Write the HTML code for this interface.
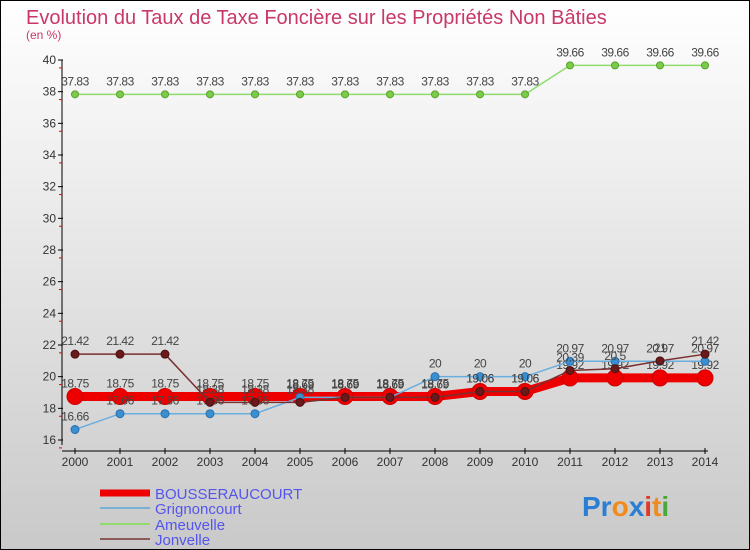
<!DOCTYPE html>
<html><head><meta charset="utf-8"><style>
body{margin:0;padding:0}
svg{display:block;font-family:"Liberation Sans",sans-serif}
</style></head><body>
<svg id="chart" width="750" height="550" viewBox="0 0 750 550">
<defs><linearGradient id="bg" x1="0" y1="0" x2="0" y2="1"><stop offset="0" stop-color="#ffffff"/><stop offset="1" stop-color="#c9c9c9"/></linearGradient></defs>
<rect x="0.5" y="0.5" width="749" height="549" fill="url(#bg)" stroke="#000"/>
<text x="26" y="24" font-size="20" fill="#c8386a">Evolution du Taux de Taxe Foncière sur les Propriétés Non Bâties</text>
<text x="26" y="39" font-size="12" fill="#c8386a">(en %)</text>
<g id="axes"></g>
<g id="series"></g>
<g>
<line x1="100" y1="493" x2="150" y2="493" stroke="#ee0000" stroke-width="7"/>
<text x="155" y="499" font-size="15" fill="#5555ee">BOUSSERAUCOURT</text>
<line x1="100" y1="508" x2="150" y2="508" stroke="#7ab0d4" stroke-width="2"/>
<text x="155" y="514" font-size="15" fill="#5555ee">Grignoncourt</text>
<line x1="100" y1="524" x2="150" y2="524" stroke="#8fdc6c" stroke-width="2"/>
<text x="155" y="530" font-size="15" fill="#5555ee">Ameuvelle</text>
<line x1="100" y1="539" x2="150" y2="539" stroke="#8b5a5a" stroke-width="2"/>
<text x="155" y="545" font-size="15" fill="#5555ee">Jonvelle</text>
</g>
<text x="582" y="516" font-size="28" font-weight="bold"><tspan fill="#2a7fd4">Pr</tspan><tspan fill="#f08a1c">o</tspan><tspan fill="#2a7fd4">x</tspan><tspan fill="#e23a2a">i</tspan><tspan fill="#f08a1c">t</tspan><tspan fill="#4aa83a">i</tspan></text>
</svg>
<script>
const years=[2000,2001,2002,2003,2004,2005,2006,2007,2008,2009,2010,2011,2012,2013,2014];
const yTicks=[16,18,20,22,24,26,28,30,32,34,36,38,40];
const bousseraucourt=[18.75,18.75,18.75,18.75,18.75,18.75,18.75,18.75,18.75,19.06,19.06,19.92,19.92,19.92,19.92];
const grignoncourt=[16.66,17.66,17.66,17.66,17.66,18.69,18.69,18.69,20,20,20,20.97,20.97,20.97,20.97];
const ameuvelle=[37.83,37.83,37.83,37.83,37.83,37.83,37.83,37.83,37.83,37.83,37.83,39.66,39.66,39.66,39.66];
const jonvelle=[21.42,21.42,21.42,18.38,18.38,18.38,18.69,18.69,18.69,19.06,19.06,20.39,20.5,21,21.42];
const NS='http://www.w3.org/2000/svg';
const xs=i=>75+i*45;
const ys=v=>440-(v-16)*(380/24);
function mk(t,a,p){const e=document.createElementNS(NS,t);for(const k in a)e.setAttribute(k,a[k]);p.appendChild(e);return e;}
const ax=document.getElementById('axes');
const yl=mk('line',{x1:62,y1:60,x2:62,y2:445,stroke:'#000'},ax);


const xl=mk('line',{x1:62,y1:451,x2:708,y2:451,stroke:'#000'},ax);


yTicks.forEach(v=>{
  const y=ys(v);
  mk('line',{x1:58,y1:y,x2:63,y2:y,stroke:'#000'},ax);
  mk('line',{x1:59,y1:y+15.8/2,x2:62,y2:y+15.8/2,stroke:'#e00'},ax);
  const t=mk('text',{x:56,y:y+4,'font-size':12,'text-anchor':'end',fill:'#333'},ax);
  t.textContent=v;
  
  
});
years.forEach((yr,i)=>{
  const x=xs(i);
  mk('line',{x1:x,y1:448,x2:x,y2:454,stroke:'#000'},ax);
  const t=mk('text',{x:x,y:466,'font-size':12,'text-anchor':'middle',fill:'#333'},ax);
  t.textContent=yr;
  
  
});
const sg=document.getElementById('series');
function series(name,vals,color,w,r,pc,ps){
  const g=mk('g',{},sg);
  
  
  mk('polyline',{points:vals.map((v,i)=>xs(i)+','+ys(v)).join(' '),fill:'none',stroke:color,'stroke-width':w},g);
  vals.forEach((v,i)=>{
    const c=mk('circle',{cx:xs(i),cy:ys(v),r:r,fill:pc,stroke:ps,'stroke-width':1},g);
    
    
    const t=mk('text',{x:xs(i),y:ys(v)-9,'font-size':12,'text-anchor':'middle',fill:'#444','letter-spacing':'-0.5'},g);
    t.textContent=String(v);
    
    
  });
}
series('ameuvelle',ameuvelle,'#8fdc6c',1.5,3.5,'#7acc4a','#5aa02a');
series('bousseraucourt',bousseraucourt,'#ee0000',9,8,'#ee0000','#cc0000');
series('grignoncourt',grignoncourt,'#6aaee0',1.5,4,'#3a8fd0','#2a70b0');
series('jonvelle',jonvelle,'#7a3030',1.5,4,'#6a1a1a','#4a1010');
</script>
</body></html>
